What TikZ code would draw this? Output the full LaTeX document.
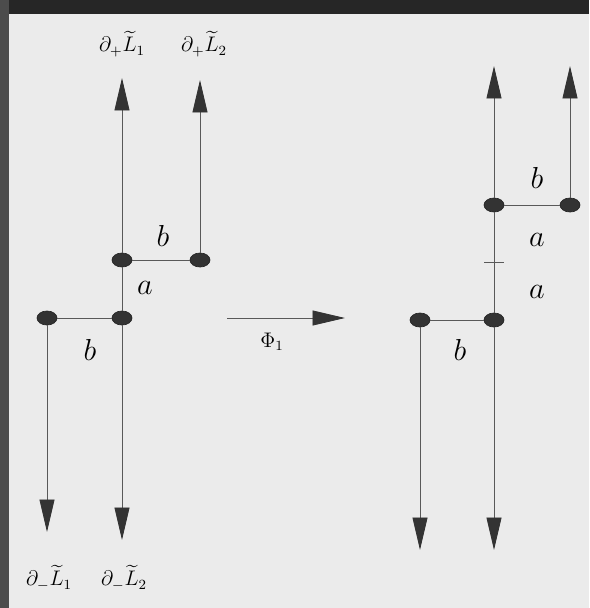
\documentclass[tikz,border=0pt]{standalone}
\usepackage{amsmath,amssymb}
\usetikzlibrary{arrows.meta,positioning,shapes.geometric}
\tikzset{dot/.style={ellipse,fill=black!80,draw=black!85,minimum width=0.4cm,minimum height=0.28cm,inner sep=0pt},
  strand/.style={draw=black!65,line width=0.5pt},
  tip/.style={-{Triangle[length=0.65cm,width=0.3cm,color=black!80]}},
  lab/.style={font=\LARGE},
  endlab/.style={font=\large}}
\begin{document}
\begin{tikzpicture}[x=0.02cm,y=-0.02cm]
\useasboundingbox (0,0) rectangle (589,608);
\fill[black!8] (0,0) rectangle (589,608);
\fill[black!85] (0,0) rectangle (589,14);
\fill[black!70] (0,0) rectangle (9,608);
% left picture
\node (p1) [dot] at (122,260) {};
\node (p2) [dot] at (200,260) {};
\node (p3) [dot] at (122,318) {};
\node (p4) [dot] at (47,318) {};
\coordinate (t1) at (122,78);
\coordinate (t2) at (200,80);
\coordinate (d1) at (47,532);
\coordinate (d2) at (122,540);
%
\draw[strand,tip] (p1) -- (t1);
\draw[strand,tip] (p2) -- (t2);
\draw[strand,tip] (p4) -- (d1);
\draw[strand,tip] (p3) -- (d2);
\draw[strand] (p1) -- (p2);
\draw[strand] (p1) -- (p3);
\draw[strand] (p3) -- (p4);
%
\node (lt1) [endlab] at (122,44) {$\partial_+\widetilde{L}_1$};
\node (lt2) [endlab] at (204,44) {$\partial_+\widetilde{L}_2$};
\node (lb1) [endlab] at (49,578) {$\partial_-\widetilde{L}_1$};
\node (lb2) [endlab] at (124,578) {$\partial_-\widetilde{L}_2$};
\node (b1) [lab] at (163,236) {$b$};
\node (a1) [lab] at (145,288) {$a$};
\node (b2) [lab] at (90,350) {$b$};
% the map
\coordinate (m1) at (227,318);
\coordinate (m2) at (345,318);
\draw[strand,tip] (m1) -- (m2);
\node (phi) [endlab] at (272,342) {$\Phi_1$};
% right picture
\node (q1) [dot] at (494,205) {};
\node (q2) [dot] at (570,205) {};
\node (q3) [dot] at (494,320) {};
\node (q4) [dot] at (420,320) {};
\coordinate (k) at (494,262);
\coordinate (u1) at (494,66);
\coordinate (u2) at (570,66);
\coordinate (v1) at (420,550);
\coordinate (v2) at (494,550);
%
\draw[strand,tip] (q1) -- (u1);
\draw[strand,tip] (q2) -- (u2);
\draw[strand,tip] (q4) -- (v1);
\draw[strand,tip] (q3) -- (v2);
\draw[strand] (q1) -- (q2);
\draw[strand] (q1) -- (q3);
\draw[strand] (q3) -- (q4);
\draw[strand] ([xshift=-0.2cm]k) -- ([xshift=0.2cm]k);
%
\node (b3) [lab] at (537,178) {$b$};
\node (a2) [lab] at (537,240) {$a$};
\node (a3) [lab] at (537,292) {$a$};
\node (b4) [lab] at (460,350) {$b$};
\end{tikzpicture}
\end{document}
